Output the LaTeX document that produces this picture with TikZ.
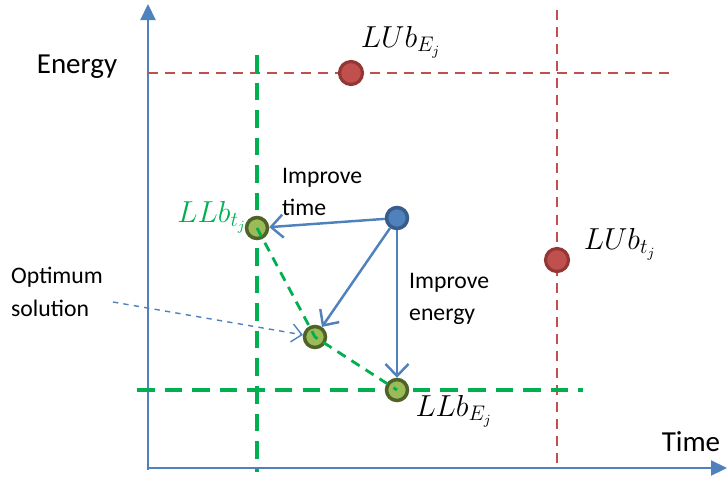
\documentclass[tikz,border=0pt]{standalone}
\usepackage{fontspec}
\setmainfont{Carlito}
\usepackage{tikz}
\usetikzlibrary{arrows.meta,positioning,calc}
\definecolor{axblue}{HTML}{4F81BD}
\definecolor{dkblue}{HTML}{385D8A}
\definecolor{bndred}{HTML}{C0504D}
\definecolor{dkred}{HTML}{943634}
\definecolor{bndgreen}{HTML}{00B050}
\definecolor{ptgreen}{HTML}{9BBB59}
\definecolor{dkgreen}{HTML}{4F6228}
\tikzset{
  axis/.style={line width=1.2pt,axblue,-{Triangle[length=3.2mm,width=3mm]}},
  ubline/.style={line width=1.6pt,bndred,dash pattern=on 5.7pt off 4pt},
  lbline/.style={line width=2.6pt,bndgreen,dash pattern=on 10pt off 5.7pt},
  front/.style={line width=1.6pt,bndgreen,dash pattern=on 5.5pt off 4pt},
  ubpt/.style={circle,fill=bndred,draw=dkred,line width=1.8pt,minimum size=4.6mm,inner sep=0pt},
  lbpt/.style={circle,fill=ptgreen,draw=dkgreen,line width=2pt,minimum size=4.2mm,inner sep=0pt},
  curpt/.style={circle,fill=axblue,draw=dkblue,line width=2pt,minimum size=4.2mm,inner sep=0pt},
  move/.style={line width=1.4pt,axblue,-{Straight Barb[length=2.4mm,width=4.6mm]}},
  hint/.style={line width=0.8pt,axblue,dashed,-{Straight Barb[length=2mm,width=3.6mm]}},
  lab/.style={font=\fontsize{13.5}{18.5}\selectfont,align=left},
  axlab/.style={font=\fontsize{16.5}{20}\selectfont},
  mlab/.style={font=\fontsize{17}{20}\selectfont}
}
\begin{document}
\begin{tikzpicture}[x=0.02cm,y=-0.02cm]
  \useasboundingbox (0,0) rectangle (727,481);
  % axes
  \coordinate (o) at (148,470);
  \coordinate (ytop) at (148,4);
  \coordinate (xend) at (727,468);
  \draw[axis] (o) -- (ytop);
  \draw[axis] (148,468) -- (xend);
  \node[axlab] (energy) at (77,67) {Energy};
  \node[axlab] (time) at (691,442) {Time};

  % upper bounds
  \coordinate (ub1) at (148,73);
  \coordinate (ub2) at (670,73);
  \coordinate (ub3) at (557,10);
  \coordinate (ub4) at (557,468);
  \draw[ubline] (ub1) -- (ub2);
  \draw[ubline] (ub3) -- (ub4);
  \node[ubpt] (LUbE) at (351,73) {};
  \node[ubpt] (LUbt) at (557,260) {};
  \node[mlab] at (401,42) {$LUb_{E_j}$};
  \node[mlab] at (620,244) {$LUb_{t_j}$};

  % lower bounds
  \coordinate (lb1) at (257,55);
  \coordinate (lb2) at (257,472);
  \coordinate (lb3) at (137,390);
  \coordinate (lb4) at (583,390);
  \draw[lbline] (lb1) -- (lb2);
  \draw[lbline] (lb3) -- (lb4);

  % points
  \node[lbpt] (LLbt) at (257,228) {};
  \node[lbpt] (opt) at (315,337) {};
  \node[lbpt] (LLbE) at (397,390) {};
  \node[curpt] (cur) at (397,218) {};
  \draw[front] (LLbt.center) -- (opt.center) -- (LLbE.center);
  \node[mlab,text=bndgreen] at (212,217) {$LLb_{t_j}$};
  \node[mlab] at (454,411) {$LLb_{E_j}$};

  % moves
  \draw[move] (cur) -- (LLbt);
  \draw[move] (cur) -- (opt);
  \draw[move] (cur) -- (LLbE);
  \node[lab,anchor=west] (imptime) at (276,192) {Improve\\time};
  \node[lab,anchor=west] (impenergy) at (403,299) {Improve\\energy};

  % optimum
  \node[lab,anchor=west] (optlab) at (5,292) {Optimum\\solution};
  \draw[hint] (113,302) -- (opt);
\end{tikzpicture}
\end{document}
